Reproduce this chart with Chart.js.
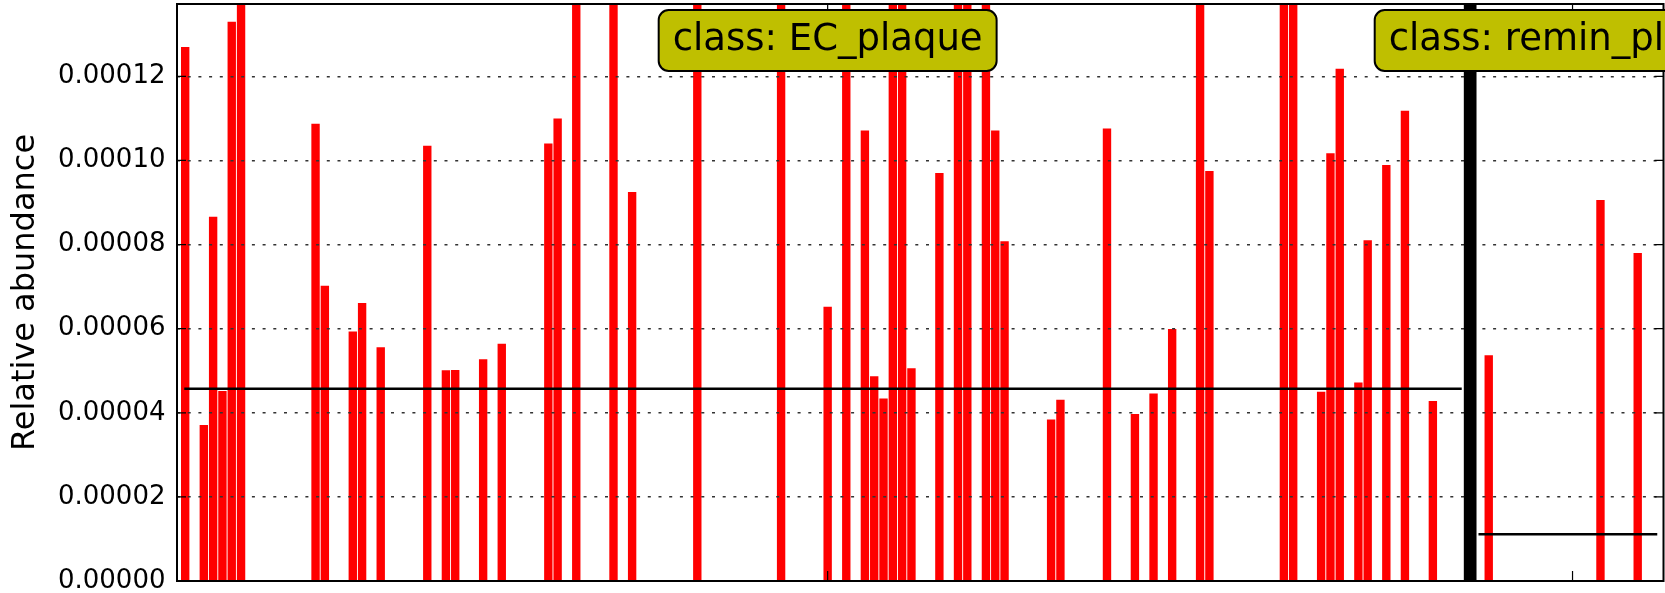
<!DOCTYPE html>
<html>
<head>
<meta charset="utf-8">
<script src="https://cdn.jsdelivr.net/npm/chart.js@4.4.0/dist/chart.umd.min.js"></script>
<style>
    html, body { margin: 0; padding: 0; background: #fff; }
    #grafica { width: 1665px; height: 593px; }
</style>
</head>
<body>
<div id="grafica"><canvas id="myChart" width="1665" height="593"></canvas></div>
<script>
// clases y abundancias por muestra (las barras que salen del grafico estan recortadas)
var clases = ['EC_plaque', 'remin_plaque'];

var ec_plaque = [
    0.0001270, 0, 0.0000371, 0.0000866, 0.0000452, 0.0001330, 0.000182, 0, 0, 0,
    0, 0, 0, 0, 0.0001087, 0.0000702, 0, 0, 0.0000593, 0.0000661,
    0, 0.0000556, 0, 0, 0, 0, 0.0001035, 0, 0.0000501, 0.0000502,
    0, 0, 0.0000527, 0, 0.0000564, 0, 0, 0, 0, 0.0001040,
    0.0001100, 0, 0.000315, 0, 0, 0, 0.000224, 0, 0.0000925, 0,
    0, 0, 0, 0, 0, 0.000169, 0, 0, 0, 0,
    0, 0, 0, 0, 0.000273, 0, 0, 0, 0, 0.0000652,
    0, 0.000198, 0, 0.0001071, 0.0000487, 0.0000434, 0.000246, 0.000211, 0.0000506, 0,
    0, 0.0000970, 0, 0.000157, 0.000294, 0, 0.000203, 0.0001071, 0.0000808, 0,
    0, 0, 0, 0.0000384, 0.0000431, 0, 0, 0, 0, 0.0001076,
    0, 0, 0.0000397, 0, 0.0000446, 0, 0.0000599, 0, 0, 0.000268,
    0.0000975, 0, 0, 0, 0, 0, 0, 0, 0.000175, 0.000304,
    0, 0, 0.0000450, 0.0001017, 0.0001218, 0, 0.0000472, 0.0000810, 0, 0.0000989,
    0, 0.0001118, 0, 0, 0.0000428, 0, 0, 0
];

var remin_plaque = [
    0, 0.0000537, 0, 0, 0, 0, 0, 0, 0, 0,
    0, 0, 0, 0.0000906, 0, 0, 0, 0.0000780, 0, 0
];

var yTicks = [0, 0.00002, 0.00004, 0.00006, 0.00008, 0.00010, 0.00012];
var yMax = 0.0001372;

var fuente = '"DejaVu Sans", "Liberation Sans", sans-serif';

var series = [ec_plaque, remin_plaque];
var inicio = [0, ec_plaque.length + 1];
var separador = ec_plaque.length;

var puntos = [];
var medias = [];
var centros = [];
series.forEach(function (s, c) {
    var suma = 0;
    s.forEach(function (v, i) {
        puntos.push({ x: inicio[c] + i, y: v });
        suma += v;
    });
    medias.push(suma / s.length);
    centros.push(inicio[c] + s.length / 2);
});

var datasets = [{
    type: 'bar',
    data: puntos,
    backgroundColor: '#ff0000',
    borderWidth: 0,
    barPercentage: 0.9,
    categoryPercentage: 1,
    clip: 0,
    order: 2
}];
series.forEach(function (s, c) {
    datasets.push({
        type: 'line',
        data: [{ x: inicio[c] - 0.1, y: medias[c] }, { x: inicio[c] + s.length - 0.9, y: medias[c] }],
        borderColor: '#000',
        borderWidth: 2.7,
        pointRadius: 0,
        order: 0
    });
});

function cajaRedonda(ctx, x, y, w, h, r) {
    ctx.beginPath();
    ctx.moveTo(x + r, y);
    ctx.lineTo(x + w - r, y);
    ctx.arcTo(x + w, y, x + w, y + r, r);
    ctx.lineTo(x + w, y + h - r);
    ctx.arcTo(x + w, y + h, x + w - r, y + h, r);
    ctx.lineTo(x + r, y + h);
    ctx.arcTo(x, y + h, x, y + h - r, r);
    ctx.lineTo(x, y + r);
    ctx.arcTo(x, y, x + r, y, r);
    ctx.closePath();
}

var decoracion = {
    id: 'decoracion',
    afterDraw: function (chart) {
        var ctx = chart.ctx;
        var a = chart.chartArea;
        var sx = chart.scales.x;
        var sy = chart.scales.y;
        ctx.save();

        // linea gruesa entre clases
        var xs = sx.getPixelForValue(separador);
        ctx.fillStyle = '#000';
        ctx.fillRect(xs - 6.3, a.top, 12.7, a.bottom - a.top);

        // marco
        ctx.strokeStyle = '#000';
        ctx.lineWidth = 2;
        ctx.strokeRect(a.left, a.top, a.right - a.left, a.bottom - a.top);

        // ticks hacia adentro
        ctx.lineWidth = 1.2;
        ctx.beginPath();
        yTicks.forEach(function (t) {
            var py = sy.getPixelForValue(t);
            ctx.moveTo(a.left, py); ctx.lineTo(a.left + 9, py);
            ctx.moveTo(a.right, py); ctx.lineTo(a.right - 9, py);
        });
        centros.forEach(function (c) {
            var px = sx.getPixelForValue(c);
            ctx.moveTo(px, a.top); ctx.lineTo(px, a.top + 9);
            ctx.moveTo(px, a.bottom); ctx.lineTo(px, a.bottom - 10);
        });
        ctx.stroke();

        // etiquetas de clase
        ctx.font = '37px ' + fuente;
        ctx.textAlign = 'center';
        ctx.textBaseline = 'alphabetic';
        clases.forEach(function (nombre, c) {
            var texto = 'class: ' + nombre;
            var px = sx.getPixelForValue(centros[c]);
            var w = ctx.measureText(texto).width;
            cajaRedonda(ctx, px - w / 2 - 14, a.top + 6, w + 28, 61, 10);
            ctx.fillStyle = '#bfbf00';
            ctx.fill();
            ctx.lineWidth = 2;
            ctx.strokeStyle = '#000';
            ctx.stroke();
            ctx.fillStyle = '#000';
            ctx.fillText(texto, px, a.top + 46);
        });

        ctx.restore();
    }
};

var ctx = document.getElementById('myChart').getContext('2d');
new Chart(ctx, {
    type: 'bar',
    data: { datasets: datasets },
    options: {
        responsive: false,
        animation: false,
        devicePixelRatio: 1,
        layout: { padding: { left: 0, top: 4, right: 1.5, bottom: 12 } },
        plugins: {
            legend: { display: false },
            tooltip: { enabled: false }
        },
        scales: {
            x: {
                type: 'linear',
                display: false,
                offset: false,
                min: -0.88,
                max: 158.77,
                grid: { offset: false },
                ticks: { stepSize: 1, includeBounds: false }
            },
            y: {
                min: 0,
                max: yMax,
                afterFit: function (s) {
                    s.width = 177;
                    s.paddingTop = 0;
                    s.paddingBottom = 0;
                },
                afterBuildTicks: function (s) {
                    s.ticks = yTicks.map(function (v) { return { value: v }; });
                },
                ticks: {
                    padding: 11.5,
                    color: '#000',
                    font: { family: fuente, size: 26 },
                    callback: function (v) { return v.toFixed(5); }
                },
                grid: {
                    color: '#333',
                    lineWidth: 1.5,
                    drawTicks: false,
                    z: 1
                },
                border: { display: false, dash: [3, 7.7] },
                title: {
                    display: true,
                    text: 'Relative abundance',
                    color: '#000',
                    font: { family: fuente, size: 32 },
                    padding: { top: 6, bottom: 0 }
                }
            }
        }
    },
    plugins: [decoracion]
});
</script>
</body>
</html>
